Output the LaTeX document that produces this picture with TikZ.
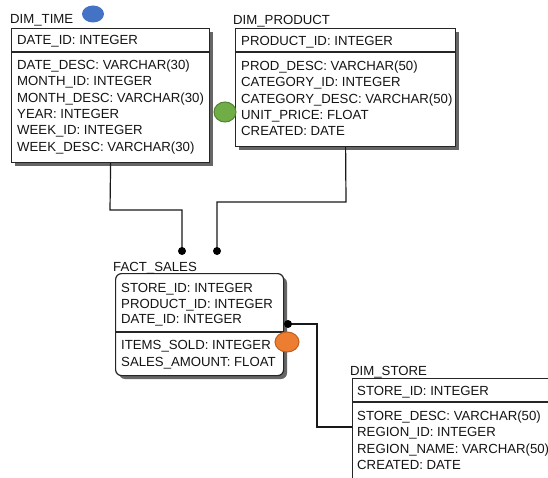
\documentclass[tikz,border=0pt]{standalone}
\usepackage{fontspec}
\setmainfont{Liberation Sans}
\definecolor{mblue}{RGB}{68,114,196}
\definecolor{mgreen}{RGB}{112,173,71}
\definecolor{mgreenD}{RGB}{80,130,50}
\definecolor{morange}{RGB}{237,125,49}
\definecolor{morangeD}{RGB}{190,95,30}
\begin{document}
\begin{tikzpicture}[x=1pt,y=-1pt,
  tbl/.style={draw=black!85, line width=1.2pt, fill=white, anchor=north west, inner sep=0pt},
  shad/.style={fill=black!60, draw=none},
  txt/.style={anchor=base west, inner sep=0pt, text=black!92, font=\fontsize{13.2}{15}\selectfont},
  conn/.style={draw=black!90, line width=1.2pt},
  dotend/.style={fill=black},
  marker/.style={line width=1pt}
]
\useasboundingbox (0,0) rectangle (548,478);
\clip (0,0) rectangle (548,478);
\fill[white] (0,0) rectangle (548,478);

% ---------- DIM_TIME ----------
\fill[shad] (15,32) rectangle (213,166);
\node[tbl, minimum width=198pt, minimum height=134pt] (time) at (11,28) {};
\draw[black!85, line width=1.2pt] (11,52) -- (209,52);
\node[txt] (timelbl) at (10,24) {DIM\_TIME};
\node[txt] (time0) at (17,45) {DATE\_ID: INTEGER};
\node[txt] (time1) at (17,69.5) {DATE\_DESC: VARCHAR(30)};
\node[txt] (time2) at (17,86) {MONTH\_ID: INTEGER};
\node[txt] (time3) at (17,102.3) {MONTH\_DESC: VARCHAR(30)};
\node[txt] (time4) at (17,118.7) {YEAR: INTEGER};
\node[txt] (time5) at (17,135) {WEEK\_ID: INTEGER};
\node[txt] (time6) at (17,151.5) {WEEK\_DESC: VARCHAR(30)};

% ---------- DIM_PRODUCT ----------
\fill[shad] (239,32) rectangle (459,150);
\node[tbl, minimum width=220pt, minimum height=118pt] (prod) at (235,28) {};
\draw[black!85, line width=1.2pt] (235,52) -- (455,52);
\node[txt] (prodlbl) at (233,25) {DIM\_PRODUCT};
\node[txt] (prod0) at (241,46) {PRODUCT\_ID: INTEGER};
\node[txt] (prod1) at (241,70.5) {PROD\_DESC: VARCHAR(50)};
\node[txt] (prod2) at (241,87) {CATEGORY\_ID: INTEGER};
\node[txt] (prod3) at (241,103.3) {CATEGORY\_DESC: VARCHAR(50)};
\node[txt] (prod4) at (241,119.7) {UNIT\_PRICE: FLOAT};
\node[txt] (prod5) at (241,136) {CREATED: DATE};

% ---------- FACT_SALES ----------
\fill[shad, rounded corners=6pt] (119,277) rectangle (287,379);
\node[tbl, rounded corners=6pt, minimum width=168pt, minimum height=102pt] (fact) at (115,273) {};
\draw[black!85, line width=1.2pt] (115,332) -- (283,332);
\node[txt] (factlbl) at (113,271) {FACT\_SALES};
\node[txt] (fact0) at (121,292) {STORE\_ID: INTEGER};
\node[txt] (fact1) at (121,308) {PRODUCT\_ID: INTEGER};
\node[txt] (fact2) at (121,323.5) {DATE\_ID: INTEGER};
\node[txt] (fact3) at (121,349) {ITEMS\_SOLD: INTEGER};
\node[txt] (fact4) at (121,366) {SALES\_AMOUNT: FLOAT};

% ---------- DIM_STORE ----------
\node[tbl, minimum width=220pt, minimum height=130pt] (store) at (352,378) {};
\draw[black!85, line width=1.2pt] (352,402) -- (572,402);
\node[txt] (storelbl) at (350,375) {DIM\_STORE};
\node[txt] (store0) at (357,395) {STORE\_ID: INTEGER};
\node[txt] (store1) at (357,420) {STORE\_DESC: VARCHAR(50)};
\node[txt] (store2) at (357,436.5) {REGION\_ID: INTEGER};
\node[txt] (store3) at (357,453) {REGION\_NAME: VARCHAR(50)};
\node[txt] (store4) at (357,469.5) {CREATED: DATE};

% ---------- connectors ----------
\coordinate (d1) at (182,251);
\coordinate (d2) at (217,251);
\coordinate (d3) at (288,324);
\coordinate (s1) at (352,427);
\draw[conn] (time.south) -- (110,210) -| (d1);
\draw[conn] (prod.south) -- (346,202) -| (d2);
\draw[conn] (d3) -- (317,324) |- (s1);
\fill[dotend] (d1) circle (4pt);
\fill[dotend] (d2) circle (4pt);
\fill[dotend] (d3) circle (4pt);

% ---------- markers ----------
\fill[mblue] (93,14) ellipse (11pt and 8.5pt);
\filldraw[marker, fill=mgreen, draw=mgreenD] (225,112) ellipse (11pt and 10pt);
\filldraw[marker, fill=morange, draw=morangeD] (287,342) ellipse (12pt and 10pt);
\end{tikzpicture}
\end{document}
